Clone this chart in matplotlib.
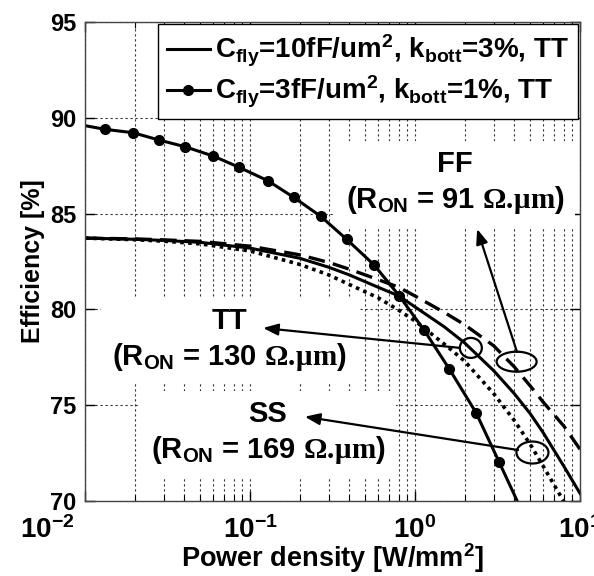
import matplotlib
matplotlib.use("Agg")
import matplotlib.pyplot as plt
from matplotlib.patches import Ellipse
from matplotlib import transforms
import numpy as np

plt.rcParams['font.family'] = ['Liberation Sans', 'DejaVu Sans']
plt.rcParams['font.weight'] = 'bold'
plt.rcParams['axes.unicode_minus'] = False
plt.rcParams['mathtext.fontset'] = 'custom'
plt.rcParams['mathtext.rm'] = 'Liberation Sans:bold'
plt.rcParams['mathtext.it'] = 'Liberation Sans:bold'
plt.rcParams['mathtext.bf'] = 'Liberation Sans:bold'
plt.rcParams['mathtext.sf'] = 'Liberation Serif:bold'

# ---- data ----
power_3f = [0.01, 0.0132, 0.0196, 0.0281, 0.0404, 0.060, 0.0857, 0.128, 0.184,
            0.269, 0.385, 0.565, 0.804, 1.135, 1.614, 2.344, 3.228, 4.6]
eff_3f = [89.59, 89.4, 89.22, 88.84, 88.49, 88.0, 87.42, 86.72, 85.85,
          84.85, 83.66, 82.32, 80.70, 78.92, 76.89, 74.61, 72.05, 69.2]

power = [0.01, 0.02, 0.03, 0.05, 0.1, 0.2, 0.3, 0.4, 0.6, 0.8, 1.0,
         1.5, 2.0, 3.0, 4.0, 5.0, 6.0, 8.0, 10.0]
eff_tt = [83.72, 83.66, 83.6, 83.5, 83.2, 82.67, 82.2, 81.8, 81.15, 80.7, 80.13,
          79.1, 78.25, 76.8, 75.6, 74.55, 73.55, 71.8, 70.4]
eff_ff = [83.72, 83.68, 83.63, 83.55, 83.3, 82.85, 82.45, 82.1, 81.55, 81.15, 80.7,
          79.85, 79.2, 78.1, 77.0, 76.0, 75.15, 73.9, 72.7]
eff_ss = [83.72, 83.64, 83.56, 83.42, 83.05, 82.35, 81.8, 81.3, 80.6, 79.95, 79.4,
          78.2, 77.3, 75.6, 74.2, 72.95, 71.8, 69.95, 68.2]

x_ticks = [0.01, 0.1, 1, 10]
x_ticklabels = ['10$^{\\mathbf{-2}}$', '10$^{\\mathbf{-1}}$', '10$^{\\mathbf{0}}$', '10$^{\\mathbf{1}}$']
y_ticks = [70, 75, 80, 85, 90, 95]

label_tt = r'C$_{\mathbf{fly}}$=10fF/um$^{\mathbf{2}}$, k$_{\mathbf{bott}}$=3%, TT'
label_3f = r'C$_{\mathbf{fly}}$=3fF/um$^{\mathbf{2}}$, k$_{\mathbf{bott}}$=1%, TT'

fig = plt.figure(figsize=(5.94, 5.76), dpi=100)
ax = fig.add_axes([85/594, 1-501/576, (580-85)/594, (501-22)/576])

l1, = ax.plot(power, eff_tt, '-', color='black', lw=2.2, label=label_tt)
l2, = ax.plot(power_3f, eff_3f, '-', color='black', lw=2.2, marker='o', ms=7,
              markevery=slice(1, -1), label=label_3f)
ax.plot(power, eff_ff, '--', color='black', lw=2.4, dashes=(5, 2.5))
ax.plot(power, eff_ss, ':', color='black', lw=2.6, dashes=(1, 1.2))

ax.set_xscale('log')
ax.set_xlim(0.01, 10)
ax.set_ylim(70, 95)
ax.set_xticks(x_ticks)
ax.set_xticklabels(x_ticklabels)
ax.set_yticks(y_ticks)
ax.grid(True, which='major', axis='both', linestyle=(0, (2, 2.5)), color='#333333', lw=0.8)
ax.grid(True, which='minor', axis='x', linestyle=(0, (2, 2.5)), color='#333333', lw=0.8)
ax.tick_params(which='both', direction='in', top=True, right=True)
ax.tick_params(which='major', length=7, width=1)
ax.tick_params(which='minor', length=4, width=0.8)
ax.tick_params(axis='y', labelsize=17, pad=6)
ax.tick_params(axis='x', labelsize=20, pad=11)
for t in ax.get_xticklabels() + ax.get_yticklabels():
    t.set_fontweight('bold')
first = ax.xaxis.get_major_ticks()[0].label1
first.set_transform(first.get_transform() + transforms.ScaledTranslation(-0.38, 0, fig.dpi_scale_trans))
for s in ax.spines.values():
    s.set_linewidth(1.0)
    s.set_color('#444444')

ax.set_xlabel(r'Power density [W/mm$^{\mathbf{2}}$]', fontsize=19.5, fontweight='bold', labelpad=-2)
ax.set_ylabel('Efficiency [%]', fontsize=18, fontweight='bold', labelpad=4)

leg = ax.legend(handles=[l1, l2], loc='upper right', bbox_to_anchor=(0.995, 0.995),
                fontsize=20, handlelength=1.55, handletextpad=0.2, borderpad=0.3,
                labelspacing=0.2, fancybox=False, framealpha=1, edgecolor='black',
                borderaxespad=0.0)
leg.get_frame().set_linewidth(1.0)
for t in leg.get_texts():
    t.set_fontweight('bold')

box = dict(facecolor='white', edgecolor='none', pad=8)
om = r'$\mathsf{Ω.\!μm}$'
ax.text(1.75, 86.6, 'FF\n(R$_{\\mathbf{ON}}$ = 91 ' + om + ')', ha='center', va='center',
        fontsize=21, fontweight='bold', linespacing=1.25, bbox=box, zorder=3)
ax.text(0.0747, 78.4, 'TT\n(R$_{\\mathbf{ON}}$ = 130 ' + om + ')', ha='center', va='center',
        fontsize=21, fontweight='bold', linespacing=1.25, bbox=box, zorder=3)
ax.text(0.1285, 73.55, 'SS\n(R$_{\\mathbf{ON}}$ = 169 ' + om + ')', ha='center', va='center',
        fontsize=21, fontweight='bold', linespacing=1.25, bbox=box, zorder=3)

arrow = dict(arrowstyle='-|>,head_length=0.9,head_width=0.35', color='black', lw=1.6,
             shrinkA=0, shrinkB=0)
ax.annotate('', xy=(0.12, 79.03), xytext=(1.875, 77.99), arrowprops=arrow, zorder=4)
ax.annotate('', xy=(0.215, 74.40), xytext=(4.21, 72.66), arrowprops=arrow, zorder=4)
ax.annotate('', xy=(2.38, 84.2), xytext=(4.15, 77.78), arrowprops=arrow, zorder=4)

for (cx, cy, w, h) in [(2.18, 77.99, 0.22, 0.20), (4.13, 77.27, 0.40, 0.20), (5.15, 72.53, 0.32, 0.22)]:
    tr = fig.dpi_scale_trans + transforms.ScaledTranslation(cx, cy, ax.transData)
    ax.add_patch(Ellipse((0, 0), w, h, transform=tr, fill=False, edgecolor='black', lw=1.6, zorder=5))

fig.savefig('out.png', dpi=100)
